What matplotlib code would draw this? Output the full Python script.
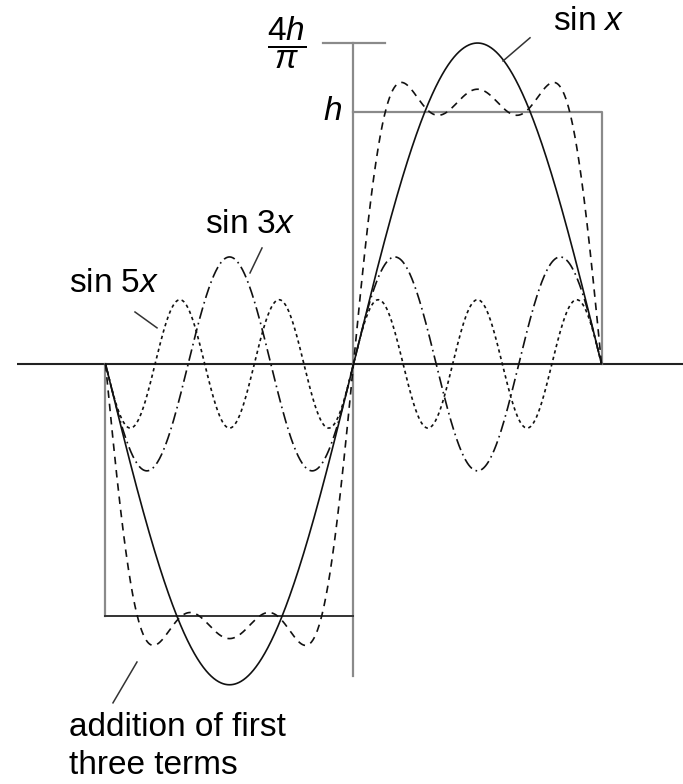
import numpy as np
import matplotlib.pyplot as plt

plt.rcParams['font.family'] = ['Liberation Sans', 'DejaVu Sans']
plt.rcParams['mathtext.fontset'] = 'custom'
plt.rcParams['mathtext.rm'] = 'Liberation Sans'
plt.rcParams['mathtext.it'] = 'Liberation Sans:italic'

# square wave of height h and the first three odd harmonics of its Fourier series
h = 1.0
harmonics = [1, 3, 5]
labels = ['sin $x$', 'sin 3$x$', 'sin 5$x$']
styles = ['-', (0, (7, 2.5, 1, 2.5)), (0, (2, 2))]
# amplitudes of the sketched sum (in units of h), flatter than the exact partial sum
sum_amps = [1.30, 0.37, 0.16]
sum_label = 'addition of first\nthree terms'

x = np.linspace(-np.pi, np.pi, 1000)
terms = [4 * h / (np.pi * n) * np.sin(n * x) for n in harmonics]
total = sum(a * np.sin(n * x) for a, n in zip(sum_amps, harmonics))

fig = plt.figure(figsize=(6.83, 7.84), dpi=100)
ax = fig.add_axes([0, 0, 1, 1])
ax.set_xlim(-4.478, 4.174)
ax.set_ylim(-1.667, 1.444)
ax.axis('off')

gray = '#8a8a8a'
fs = 24

# axes
ax.plot([-4.263, 4.174], [0, 0], color='#222222', lw=1.5, solid_capstyle='butt')
ax.plot([0, 0], [-1.238, 4 * h / np.pi], color=gray, lw=1.6)
ax.plot([-0.386, 0.399], [4 * h / np.pi, 4 * h / np.pi], color=gray, lw=1.6)

# square wave
ax.plot([0, np.pi, np.pi], [h, h, 0], color=gray, lw=1.6)
ax.plot([-np.pi, -np.pi], [0, -h], color=gray, lw=1.6)
ax.plot([-np.pi, 0], [-h, -h], color='#333333', lw=1.4)

for t, ls in zip(terms, styles):
    ax.plot(x, t, color='#111111', lw=1.2, linestyle=ls)
ax.plot(x, total, color='#111111', lw=1.2, linestyle=(0, (4.5, 3.5)))

# labels and leader lines
ax.text(2.98, 1.357, labels[0], fontsize=fs, ha='center', va='center')
ax.plot([1.894, 2.236], [1.202, 1.294], color='#333333', lw=1.1)
ax.text(-1.311, 0.552, labels[1], fontsize=fs, ha='center', va='center')
ax.plot([-1.311, -1.159], [0.361, 0.460], color='#333333', lw=1.1)
ax.text(-3.034, 0.321, labels[2], fontsize=fs, ha='center', va='center')
ax.plot([-2.768, -2.489], [0.206, 0.143], color='#333333', lw=1.1)
ax.text(-3.604, -1.627, sum_label, fontsize=fs, ha='left', va='baseline',
        linespacing=1.28)
ax.plot([-3.047, -2.743], [-1.345, -1.183], color='#333333', lw=1.1)

ax.text(-0.843, 1.274, r'$\dfrac{4h}{\pi}$', fontsize=fs, ha='center', va='center')
ax.text(-0.146, h, '$h$', fontsize=fs, ha='right', va='center')

fig.savefig('out.png', dpi=100)
